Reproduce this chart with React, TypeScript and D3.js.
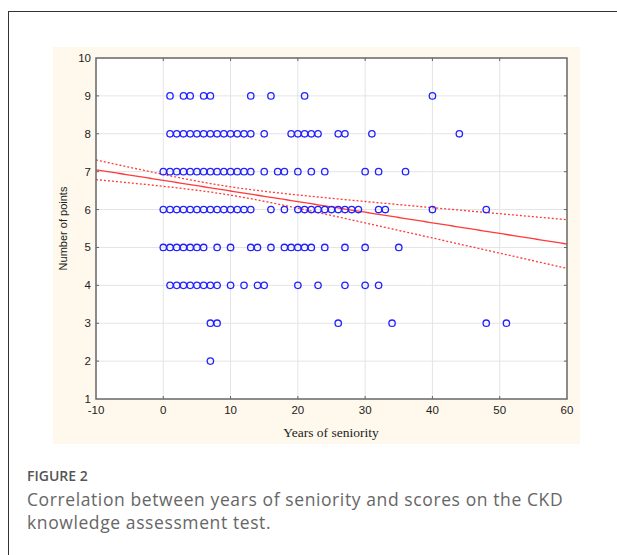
import React from "react";
import * as d3 from "d3";

// Years of seniority per score level
const row9 = [1, 3, 4, 6, 7, 13, 16, 21, 40];
const row8 = [1, 2, 3, 4, 5, 6, 7, 8, 9, 10, 11, 12, 13, 15, 19, 20, 21, 22, 23, 26, 27, 31, 44];
const row7 = [0, 1, 2, 3, 4, 5, 6, 7, 8, 9, 10, 11, 12, 13, 15, 17, 18, 20, 22, 24, 30, 32, 36];
const row6 = [0, 1, 2, 3, 4, 5, 6, 7, 8, 9, 10, 11, 12, 13, 16, 18, 20, 21, 22, 23, 24, 25, 26, 27, 28, 29, 32, 33, 40, 48];
const row5 = [0, 1, 2, 3, 4, 5, 6, 8, 10, 13, 14, 16, 18, 19, 20, 21, 22, 24, 27, 30, 35];
const row4 = [1, 2, 3, 4, 5, 6, 7, 8, 10, 12, 14, 15, 20, 23, 27, 30, 32];
const row3 = [7, 8, 26, 34, 48, 51];
const row2 = [7];

const scoreRows: [number, number[]][] = [
  [9, row9], [8, row8], [7, row7], [6, row6], [5, row5], [4, row4], [3, row3], [2, row2],
];

const xTicks = [-10, 0, 10, 20, 30, 40, 50, 60];
const yTicks = [1, 2, 3, 4, 5, 6, 7, 8, 9, 10];

// Regression line and 95% band
const regIntercept = 6.77;
const regSlope = -0.028;
const bandMeanX = 9;
const bandA = 0.012;
const bandB = 0.000154;

const W = 617;
const H = 555;
const plot = { left: 96, right: 567, top: 58, bottom: 399 };

export default function App() {
  const x = d3.scaleLinear().domain([-10, 60]).range([plot.left, plot.right]);
  const y = d3.scaleLinear().domain([1, 10]).range([plot.bottom, plot.top]);

  const xs = d3.range(-10, 60.01, 0.5);
  const fit = (v: number) => regIntercept + regSlope * v;
  const hw = (v: number) => Math.sqrt(bandA + bandB * (v - bandMeanX) ** 2);
  const lineFit = d3.line<number>().x((d) => x(d)).y((d) => y(fit(d)));
  const lineUp = d3.line<number>().x((d) => x(d)).y((d) => y(fit(d) + hw(d)));
  const lineLo = d3.line<number>().x((d) => x(d)).y((d) => y(fit(d) - hw(d)));

  const points: { sx: number; sy: number }[] = [];
  scoreRows.forEach(([score, yrs]) => yrs.forEach((yr) => points.push({ sx: yr, sy: score })));

  const sans = "'Liberation Sans', Arial, sans-serif";
  const red = "#ff3a3a";

  return (
    <svg
      width={W}
      height={H}
      viewBox={`0 0 ${W} ${H}`}
      style={{ position: "absolute", left: 0, top: 0, background: "#fff" }}
    >
      {/* outer frame */}
      <line x1={8} y1={11.5} x2={W} y2={11.5} stroke="#333" strokeWidth={1} />
      <line x1={8.5} y1={11} x2={8.5} y2={H} stroke="#333" strokeWidth={1} />

      {/* beige panel */}
      <rect x={53} y={47} width={527} height={397} fill="#fef9ec" />
      <rect x={plot.left} y={plot.top} width={plot.right - plot.left} height={plot.bottom - plot.top} fill="#fff" />

      {/* grid */}
      {xTicks.slice(1, -1).map((t) => (
        <line key={"gx" + t} x1={x(t)} x2={x(t)} y1={plot.top} y2={plot.bottom} stroke="#e4e4e4" strokeWidth={1} />
      ))}
      {yTicks.slice(1, -1).map((t) => (
        <line key={"gy" + t} x1={plot.left} x2={plot.right} y1={y(t)} y2={y(t)} stroke="#e4e4e4" strokeWidth={1} />
      ))}

      {/* regression */}
      <path d={lineFit(xs) || ""} fill="none" stroke={red} strokeWidth={1.3} />
      <path d={lineUp(xs) || ""} fill="none" stroke={red} strokeWidth={1.3} strokeDasharray="2,2" />
      <path d={lineLo(xs) || ""} fill="none" stroke={red} strokeWidth={1.3} strokeDasharray="2,2" />

      {/* points */}
      {points.map((p, i) => (
        <circle key={i} cx={x(p.sx)} cy={y(p.sy)} r={3.2} fill="none" stroke="#2222ff" strokeWidth={1.3} />
      ))}

      {/* frame */}
      <rect
        x={plot.left}
        y={plot.top}
        width={plot.right - plot.left}
        height={plot.bottom - plot.top}
        fill="none"
        stroke="#666"
        strokeWidth={1.5}
      />
      {/* ticks */}
      {xTicks.slice(1, -1).map((t) => (
        <g key={"tx" + t}>
          <line x1={x(t)} x2={x(t)} y1={plot.bottom} y2={plot.bottom - 3} stroke="#666" />
          <line x1={x(t)} x2={x(t)} y1={plot.top} y2={plot.top + 3} stroke="#666" />
        </g>
      ))}
      {yTicks.slice(1, -1).map((t) => (
        <g key={"ty" + t}>
          <line x1={plot.left} x2={plot.left + 3} y1={y(t)} y2={y(t)} stroke="#666" />
          <line x1={plot.right} x2={plot.right - 3} y1={y(t)} y2={y(t)} stroke="#666" />
        </g>
      ))}

      {/* tick labels */}
      {xTicks.map((t) => (
        <text key={"lx" + t} x={x(t)} y={plot.bottom + 15} textAnchor="middle" fontFamily={sans} fontSize={11.5} fill="#222">
          {t}
        </text>
      ))}
      {yTicks.map((t) => (
        <text key={"ly" + t} x={plot.left - 5} y={y(t) + 4} textAnchor="end" fontFamily={sans} fontSize={11.5} fill="#222">
          {t}
        </text>
      ))}

      {/* axis titles */}
      <text x={331} y={437} textAnchor="middle" fontFamily="'Liberation Serif', 'Times New Roman', serif" fontSize={13.5} fill="#222">
        Years of seniority
      </text>
      <text
        transform={`translate(67, ${(plot.top + plot.bottom) / 2}) rotate(-90)`}
        textAnchor="middle"
        fontFamily={sans}
        fontSize={11}
        fill="#222"
      >
        Number of points
      </text>

      {/* caption */}
      <text x={27} y={481} fontFamily="'Open Sans', sans-serif" fontSize={14} fontWeight={600} fill="#555">
        FIGURE 2
      </text>
      <text x={27} y={506} fontFamily="'Open Sans', sans-serif" fontSize={17.5} letterSpacing={0.6} fill="#666">
        Correlation between years of seniority and scores on the CKD
      </text>
      <text x={27} y={529} fontFamily="'Open Sans', sans-serif" fontSize={17.5} letterSpacing={0.6} fill="#666">
        knowledge assessment test.
      </text>
    </svg>
  );
}
